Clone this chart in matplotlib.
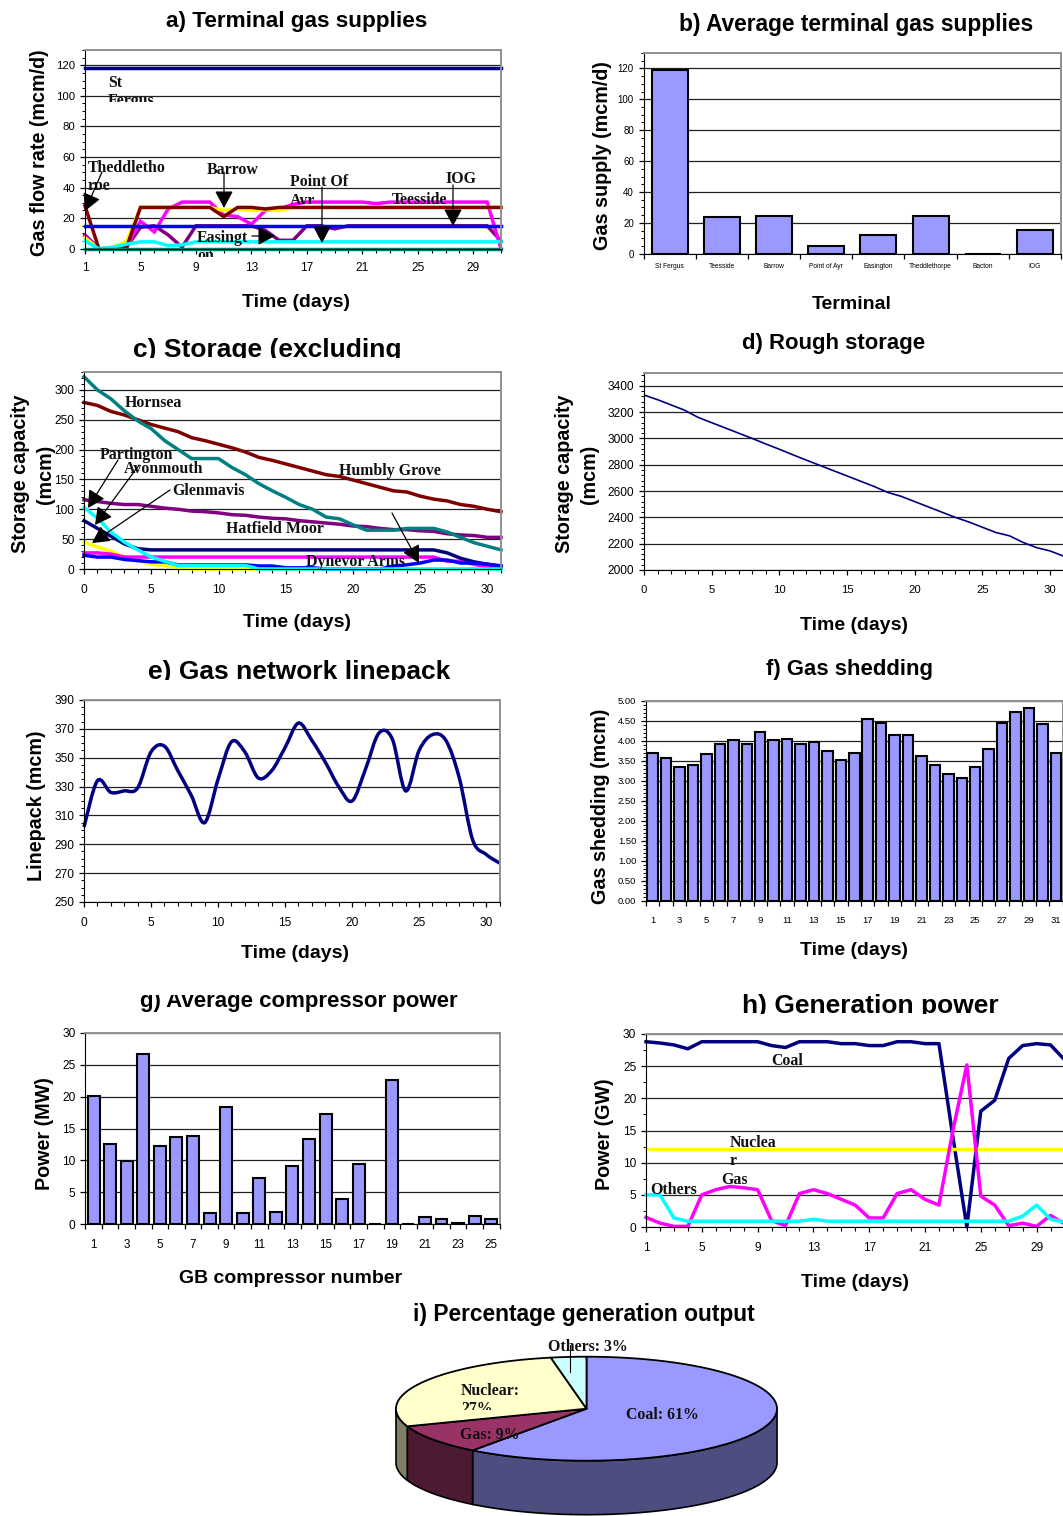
import numpy as np
import matplotlib
matplotlib.use("Agg")
import matplotlib.pyplot as plt
from matplotlib.path import Path
from matplotlib.patches import PathPatch
from matplotlib.ticker import MultipleLocator, FixedLocator, NullLocator
from matplotlib.transforms import Bbox

W, H = 1063, 1516

NAVY = "#000080"
BLUE = "#0000FF"
CYAN = "#00FFFF"
TEAL = "#008080"
MAGENTA = "#FF00FF"
YELLOW = "#FFFF00"
BROWN = "#800000"
PURPLE = "#800080"
BAR = "#9999FF"

# a) terminal gas supplies, days 1-31
days = list(range(1, 32))
st_fergus = [118.5] * 31
iog = [15] * 31
bacton = [0] * 31
point_of_ayr = [5, 0, 1, 3, 4.5, 4.5, 2, 2.5] + [4.5] * 23
teesside = [8, 0, 0, 1, 18, 11, 26, 30.5, 30.5, 30.5, 22, 21, 16, 25, 26, 29, 30.5, 30.5, 30.5, 30.5,
            30.5, 29.5, 30.5, 30.5, 30.5, 30.5, 30.5, 30.5, 30.5, 30.5, 0]
barrow = [7, 0, 1, 5, 27, 27, 27, 27, 27, 27, 25, 26, 25, 25.5, 25, 27] + [27] * 15
theddlethorpe = [28, 0, 0, 1, 27, 27, 27, 27, 27, 27, 21, 27, 27, 26, 27] + [27] * 16
easington = [9, 0, 0, 1, 14, 15, 9, 1, 15, 15, 15, 15, 15, 12, 5.5, 5.5, 15, 15, 13, 15] + [15] * 10 + [5]

# b) average terminal supplies
terminals = ["St Fergus", "Teesside", "Barrow", "Point of Ayr", "Easington", "Theddlethorpe", "Bacton", "IOG"]
avg_supply = [119, 23.5, 24.5, 4.7, 11.8, 24.5, 0, 15.3]

# c) storage excluding rough, days 0-31
days0 = list(range(0, 32))
hornsea = [322, 300, 285, 265, 248, 235, 215, 200, 185, 185, 185, 170, 158, 143, 131, 120, 108, 100, 87, 84,
           74, 65, 65, 65, 68, 68, 68, 62, 53, 44, 38, 32]
humbly = [279, 274, 264, 258, 250, 242, 236, 230, 220, 215, 209, 203, 196, 187, 182, 176, 170, 164, 158, 155,
          149, 143, 137, 131, 129, 122, 117, 114, 108, 105, 100, 96]
hatfield = [116, 113, 110, 108, 108, 105, 102, 100, 97, 96, 94, 91, 90, 87, 85, 84, 81, 79, 77, 75,
            72, 71, 68, 66, 66, 64, 63, 59, 57, 56, 53, 53]
partington = [103, 85, 62, 45, 32, 20, 13, 6, 6, 6, 6, 6, 6, 0] + [0] * 18
avonmouth = [81, 68, 55, 42, 34, 32] + [32] * 21 + [27, 18, 12, 8, 5]
glenmavis = [45, 37, 30, 20, 14, 8, 6, 2] + [0] * 24
dynevor = [27, 27, 25, 20, 20] + [20] * 22 + [13, 13, 8, 3, 2]
other_store = [23, 20, 20, 16, 14, 12, 12, 7, 7, 7, 7, 7, 7, 5, 5, 2, 2, 2, 0, 0, 0, 0, 0, 5, 7, 10, 15, 15, 10, 10, 8, 5]

# d) rough storage
rough = [3330, 3295, 3255, 3215, 3160, 3120, 3080, 3040, 3000, 2958, 2918, 2876, 2835, 2795, 2755, 2715, 2675, 2635,
         2590, 2560, 2520, 2480, 2440, 2400, 2365, 2325, 2285, 2260, 2210, 2170, 2145, 2105]

# e) linepack
linepack = [302, 334, 326, 327, 329, 354, 358, 341, 324, 305, 335, 361, 354, 336, 341, 357, 374, 362, 347, 330,
            320, 342, 367, 363, 327, 355, 366, 362, 336, 293, 283, 277]

# f) gas shedding
shedding = [3.7, 3.58, 3.35, 3.4, 3.67, 3.93, 4.02, 3.93, 4.23, 4.02, 4.05, 3.93, 3.97, 3.75, 3.53, 3.7,
            4.55, 4.45, 4.15, 4.15, 3.62, 3.4, 3.17, 3.08, 3.35, 3.8, 4.45, 4.73, 4.82, 4.42, 3.7]

# g) compressor power
compressors = list(range(1, 26))
comp_power = [20.1, 12.5, 9.9, 26.6, 12.2, 13.6, 13.9, 1.7, 18.4, 1.7, 7.3, 2, 9.1, 13.3, 17.3, 3.9, 9.4, 0,
              22.6, 0, 1.1, 0.8, 0.2, 1.3, 0.8]

# h) generation power
coal = [28.8, 28.6, 28.3, 27.7, 28.8, 28.8, 28.8, 28.8, 28.8, 28.2, 27.9, 28.8, 28.8, 28.8, 28.5, 28.5, 28.2, 28.2,
        28.8, 28.8, 28.5, 28.5, 14, 0, 18, 19.7, 26.2, 28.2, 28.5, 28.3, 26]
nuclear = [12.1] * 31
gas = [1.5, 0.6, 0.1, 0.1, 5, 5.8, 6.3, 6.1, 5.8, 1, 0.2, 5.2, 5.8, 5.2, 4.3, 3.4, 1.4, 1.4, 5.2, 5.8, 4.3, 3.4,
       15, 25.2, 4.8, 3.4, 0.2, 0.6, 0.1, 1.8, 0.5]
others = [5, 5, 1.4, 0.9, 0.9, 0.9, 0.9, 0.9, 0.9, 0.9, 0.9, 0.9, 1.2, 0.9, 0.9, 0.9, 0.9, 0.9, 0.9, 0.9, 0.9, 0.9,
          0.9, 0.9, 0.9, 0.9, 0.9, 1.7, 3.4, 1.2, 0.8]

# i) share of generation, clockwise from the top, as the slices are drawn
shares = [60.2, 9.3, 27.5, 3]
top_colours = ["#9999FF", "#993366", "#FFFFCC", "#CCFFFF"]
side_colours = ["#4D4D7F", "#4D1A33", "#808066", "#668080"]

fig = plt.figure(figsize=(W / 100, H / 100), dpi=100, facecolor="white")
plt.rcParams["font.family"] = ["Liberation Sans", "DejaVu Sans"]


def panel(x0, y0, x1, y1):
    # axes placed by image pixels
    ax = fig.add_axes([x0 / W, 1 - y1 / H, (x1 - x0) / W, (y1 - y0) / H])
    ax.set_axisbelow(True)
    ax.yaxis.grid(True, color="#222222", lw=0.9)
    ax.spines["top"].set_color("#909090")
    ax.spines["right"].set_color("#909090")
    ax.spines["top"].set_linewidth(1.4)
    ax.spines["right"].set_linewidth(1.4)
    ax.tick_params(axis="both", which="major", length=3.5, width=0.9, color="black")
    ax.tick_params(axis="y", which="minor", length=2, width=0.7)
    ax.tick_params(axis="x", which="minor", length=3, width=0.8)
    return ax


def day_axis(ax, first, last, step, size, pad=6):
    ax.set_xlim(first, last)
    ax.xaxis.set_major_locator(FixedLocator(list(range(first, last + 1, step))))
    ax.xaxis.set_minor_locator(MultipleLocator(1))
    ax.tick_params(axis="x", labelsize=size, pad=pad)


def cat_axis(ax, n, step, size, pad=7):
    # ticks sit between the categories, labels under the category centres
    ax.set_xlim(0.5, n + 0.5)
    ax.xaxis.set_major_locator(FixedLocator(np.arange(0.5, n + 1)))
    ax.xaxis.set_major_formatter(plt.NullFormatter())
    ax.xaxis.set_minor_locator(FixedLocator(list(range(1, n + 1, step))))
    ax.xaxis.set_minor_formatter(plt.ScalarFormatter())
    ax.tick_params(axis="x", which="minor", length=0, labelsize=size, pad=pad + 3.5)


# a
ax = panel(85, 50, 501, 248.7)
for vals, col in [(st_fergus, NAVY), (easington, PURPLE), (teesside, MAGENTA), (barrow, YELLOW),
                  (theddlethorpe, BROWN), (iog, BLUE), (point_of_ayr, CYAN), (bacton, TEAL)]:
    ax.plot(days, vals, color=col, lw=2.5, clip_on=False, solid_joinstyle="miter")
ax.set_ylim(0, 130)
ax.yaxis.set_major_locator(MultipleLocator(20))
ax.yaxis.set_minor_locator(MultipleLocator(5))
ax.tick_params(axis="y", labelsize=8.2)
day_axis(ax, 1, 31, 4, 8.6)

# b
ax = panel(643.6, 53, 1061, 253.7)
ax.bar(range(1, 9), avg_supply, width=0.69, color=BAR, edgecolor="black", lw=1.5)
ax.set_xlim(0.5, 8.5)
ax.set_xticks(np.arange(0.5, 9))
ax.set_xticklabels([])
ax.set_xticks(range(1, 9), labels=terminals, minor=True)
ax.tick_params(axis="x", which="minor", length=0, labelsize=4.8, pad=7)
ax.set_ylim(0, 130)
ax.yaxis.set_major_locator(MultipleLocator(20))
ax.yaxis.set_minor_locator(MultipleLocator(5))
ax.tick_params(axis="y", labelsize=7)

# c
ax = panel(84, 372, 501, 569)
for vals, col in [(hatfield, PURPLE), (humbly, BROWN), (hornsea, TEAL), (glenmavis, YELLOW), (dynevor, MAGENTA),
                  (avonmouth, NAVY), (other_store, BLUE), (partington, CYAN)]:
    ax.plot(days0, vals, color=col, lw=2.5, clip_on=False)
ax.set_ylim(0, 330)
ax.yaxis.set_major_locator(MultipleLocator(50))
ax.yaxis.set_minor_locator(MultipleLocator(10))
ax.tick_params(axis="y", labelsize=8.6)
day_axis(ax, 0, 31, 5, 8.6, pad=7)

# d
ax = panel(644, 372.7, 1063.6, 570)
ax.plot(days0, rough, color=NAVY, lw=1.2)
ax.set_ylim(2000, 3500)
ax.yaxis.set_major_locator(MultipleLocator(200))
ax.yaxis.set_minor_locator(MultipleLocator(40))
ax.tick_params(axis="y", labelsize=8.6)
day_axis(ax, 0, 31, 5, 8.2, pad=7)

# e, smoothed line the way a spreadsheet draws it
ax = panel(84, 700, 499.5, 902)
xs = np.array(days0, float)
ys = np.array(linepack, float)
verts = [(xs[0], ys[0])]
for i in range(len(xs) - 1):
    p0 = max(i - 1, 0)
    p3 = min(i + 2, len(xs) - 1)
    verts.append((xs[i] + (xs[i + 1] - xs[p0]) / 6, ys[i] + (ys[i + 1] - ys[p0]) / 6))
    verts.append((xs[i + 1] - (xs[p3] - xs[i]) / 6, ys[i + 1] - (ys[p3] - ys[i]) / 6))
    verts.append((xs[i + 1], ys[i + 1]))
codes = [Path.MOVETO] + [Path.CURVE4] * (len(verts) - 1)
ax.add_patch(PathPatch(Path(verts, codes), fill=False, edgecolor=NAVY, lw=2.5, clip_on=False))
ax.set_ylim(250, 390)
ax.yaxis.set_major_locator(FixedLocator(list(range(250, 391, 20))))
ax.yaxis.set_minor_locator(MultipleLocator(5))
ax.tick_params(axis="y", labelsize=8.6)
day_axis(ax, 0, 31, 5, 8.6, pad=7)

# f
ax = panel(646, 700.7, 1062.6, 901)
ax.bar(range(1, 32), shedding, width=0.78, color=BAR, edgecolor="black", lw=1.5)
cat_axis(ax, 31, 2, 6.8, pad=7)
ax.set_ylim(0, 5)
ax.yaxis.set_major_locator(MultipleLocator(0.5))
ax.yaxis.set_major_formatter("{x:.2f}")
ax.yaxis.set_minor_locator(MultipleLocator(0.1))
ax.tick_params(axis="y", labelsize=6.8)

# g
ax = panel(85.3, 1032.7, 499.5, 1224.3)
ax.bar(compressors, comp_power, width=0.72, color=BAR, edgecolor="black", lw=1.5)
cat_axis(ax, 25, 2, 8.4, pad=7)
ax.set_ylim(0, 30)
ax.yaxis.set_major_locator(MultipleLocator(5))
ax.yaxis.set_minor_locator(NullLocator())
ax.tick_params(axis="y", labelsize=8.6)

# h
ax = panel(646, 1034, 1064.5, 1227)
for vals, col in [(coal, NAVY), (nuclear, YELLOW), (gas, MAGENTA), (others, CYAN)]:
    ax.plot(days, vals, color=col, lw=2.5, clip_on=False)
ax.set_ylim(0, 30)
ax.yaxis.set_major_locator(MultipleLocator(5))
ax.yaxis.set_minor_locator(MultipleLocator(2.5))
ax.tick_params(axis="y", labelsize=8.6)
day_axis(ax, 1, 31, 4, 8.6, pad=7)

# overlay in image pixels for the pie, titles, labels and arrows
ov = fig.add_axes([0, 0, 1, 1], zorder=10)
ov.set_xlim(0, W)
ov.set_ylim(H, 0)
ov.axis("off")

# i, 3d pie from the shares
cx, cy, rx, ry, depth = 586.5, 1408.7, 190.5, 52, 54
edges = 90 - np.cumsum([0] + shares) * 3.6
for i in range(len(shares)):
    a0, a1 = edges[i + 1] + 360, edges[i] + 360
    lo, hi = max(a0, 180), min(a1, 360)
    if a0 < 180 and a1 > 180:
        lo = 180
    if hi <= lo:
        lo, hi = max(a0 + 360, 180), min(a1 + 360, 360)
    if hi > lo:
        t = np.radians(np.linspace(lo, hi, 80))
        px = cx + rx * np.cos(t)
        py = cy - ry * np.sin(t)
        ov.fill(np.r_[px, px[::-1]], np.r_[py, py[::-1] + depth],
                facecolor=side_colours[i], edgecolor="black", lw=1.2)
for i in range(len(shares)):
    t = np.radians(np.linspace(edges[i], edges[i + 1], 120))
    ov.fill(np.r_[cx, cx + rx * np.cos(t)], np.r_[cy, cy - ry * np.sin(t)],
            facecolor=top_colours[i], edgecolor="black", lw=1.3, joinstyle="round")
ov.set_xlim(0, W)
ov.set_ylim(H, 0)


def txt(x, y, s, size=11.4, weight="bold", family="Liberation Serif", ha="left", rot=0, clip=None, color="#111111",
        spacing=1.1):
    t = ov.text(x, y + 1, s, fontsize=size, fontweight=weight, family=family, ha=ha, va="center",
                rotation=rot, color=color, multialignment="center", linespacing=spacing)
    if clip is not None:
        # cut text at image rows, as the frames do in the original
        t.set_clip_on(True)
        t.set_clip_box(Bbox.from_extents(0, H - clip[1], W, H - clip[0]))
    return t


def title(x, y, s, size=16.2, clip=None):
    txt(x, y, s, size=size, family="Liberation Sans", ha="center", clip=clip, color="black")


def xlab(x, y, s):
    txt(x, y + 1.5, s, size=14, family="Liberation Sans", ha="center", color="black")


def ylab(x, y, s):
    txt(x + 2, y, s, size=14.2, family="Liberation Sans", ha="center", rot=90, color="black", spacing=1.35)


def arrow(x0, y0, x1, y1):
    ov.annotate("", xy=(x1, y1), xytext=(x0, y0),
                arrowprops=dict(arrowstyle="-|>,head_length=0.75,head_width=0.4", color="black", lw=0.9,
                                shrinkA=0, shrinkB=0, mutation_scale=14))


title(297, 21, "a) Terminal gas supplies")
title(856, 24, "b) Average terminal gas supplies", size=16.4)
title(267, 349, "c) Storage (excluding", size=19, clip=(330, 357.5))
title(834, 343, "d) Rough storage", size=15.9)
title(299, 671, "e) Gas network linepack", size=19, clip=(655, 679.5))
title(849, 668, "f) Gas shedding", size=15.9)
title(299, 1001, "g) Average compressor power", size=16, clip=(994.5, 1020))
title(870, 1005, "h) Generation power", size=19, clip=(990, 1013.5))
title(584, 1314, "i) Percentage generation output", size=16.4)

for x, y, s in [(296, 300, "Time (days)"), (852, 302, "Terminal"), (297, 620, "Time (days)"), (854, 623, "Time (days)"),
                (295, 951, "Time (days)"), (854, 948, "Time (days)"), (291, 1276, "GB compressor number"),
                (855, 1280, "Time (days)")]:
    xlab(x, y, s)

for x, y, s in [(38, 152, "Gas flow rate (mcm/d)"), (600, 155, "Gas supply (mcm/d)"), (31, 473, "Storage capacity\n(mcm)"),
                (575, 473, "Storage capacity\n(mcm)"), (35, 805, "Linepack (mcm)"), (598, 805, "Gas shedding (mcm)"),
                (43, 1133, "Power (MW)"), (603, 1133, "Power (GW)")]:
    ylab(x, y, s)

# series names, some lines are cut by their text boxes
txt(108, 82, "St")
txt(108, 100, "Fergus", clip=(90, 101.5))
txt(88, 167, "Theddletho")
txt(88, 185, "rpe", clip=(176, 190))
txt(207, 169, "Barrow")
txt(290, 181, "Point Of")
txt(290, 200, "Ayr", clip=(190, 204))
txt(445, 178, "IOG")
txt(392, 199, "Teesside")
txt(197, 237, "Easingt")
txt(197, 255, "on", clip=(245, 257))
txt(125, 402, "Hornsea")
txt(100, 454, "Partington")
txt(124, 468, "Avonmouth")
txt(172, 490, "Glenmavis")
txt(339, 470, "Humbly Grove")
txt(226, 528, "Hatfield Moor")
txt(306, 561, "Dynevor Arms")
txt(771, 1060, "Coal")
txt(730, 1142, "Nuclea")
txt(730, 1160, "r", clip=(1150, 1165))
txt(721, 1179, "Gas")
txt(650, 1189, "Others")
txt(588, 1346, "Others: 3%", ha="center")
txt(626, 1414, "Coal: 61%")
txt(461, 1390, "Nuclear:")
txt(461, 1408, "27%", clip=(1398, 1409.5))
txt(460, 1434, "Gas: 9%")
ov.plot([569.5, 569.5], [1345, 1372], color="black", lw=0.8)

for a in [(102, 172, 85, 211), (224, 172, 224, 208), (322, 187, 322, 243), (453, 185, 453, 226), (252, 236, 275, 236),
          (118, 460, 88, 508), (139, 465, 95, 525), (170, 490, 92, 543), (392, 513, 419, 563)]:
    arrow(*a)

fig.savefig("out.png", dpi=100, facecolor="white")
